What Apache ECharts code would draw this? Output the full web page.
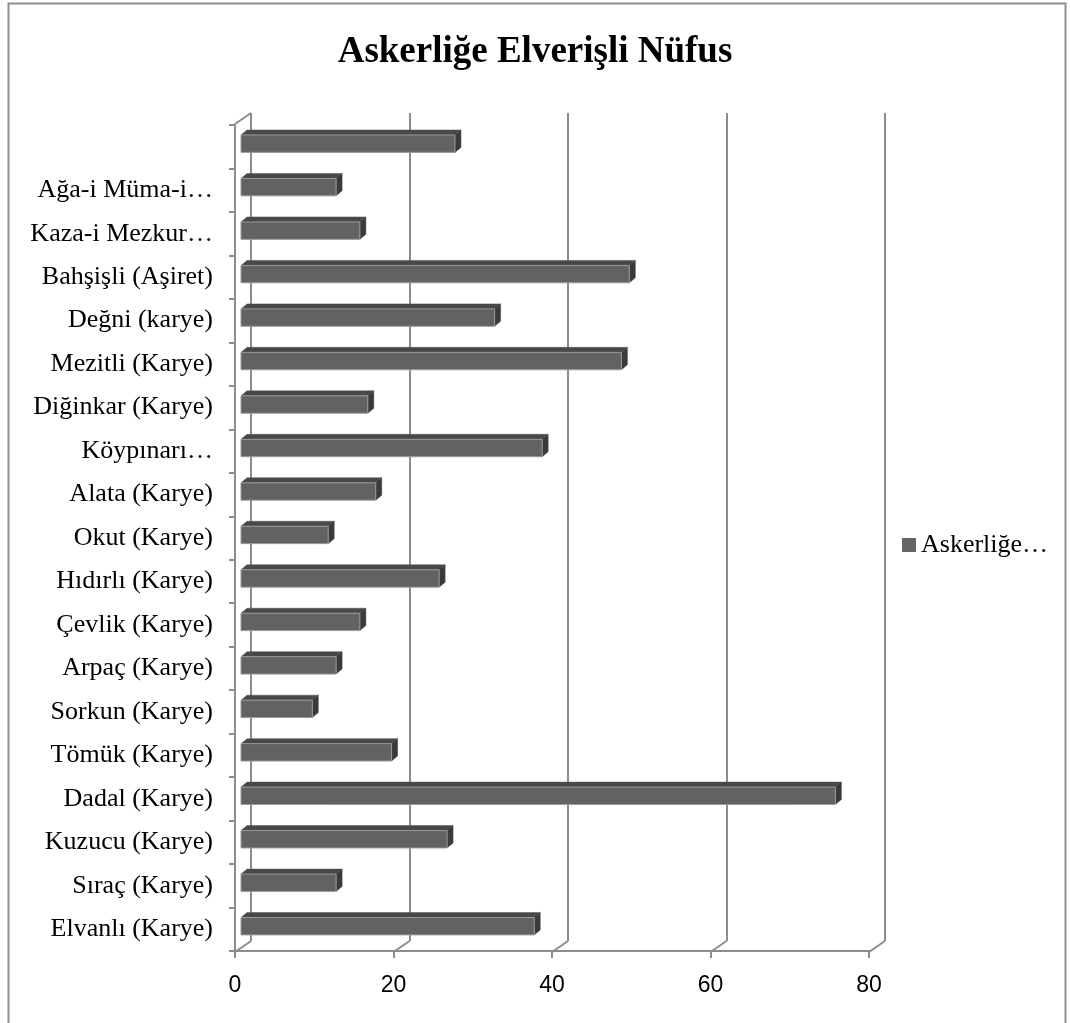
<!DOCTYPE html>
<html>
<head>
<meta charset="utf-8">
<script src="https://cdn.jsdelivr.net/npm/echarts@6/dist/echarts.min.js"></script>
<style>
html,body{margin:0;padding:0;background:#fff;}
#chart{width:1070px;height:1023px;}
</style>
</head>
<body>
<div id="chart"></div>
<script>
// Categories, bottom to top (as Excel plots them)
var categories = [
  "Elvanlı (Karye)", "Sıraç (Karye)", "Kuzucu (Karye)", "Dadal (Karye)",
  "Tömük (Karye)", "Sorkun (Karye)", "Arpaç (Karye)", "Çevlik (Karye)",
  "Hıdırlı (Karye)", "Okut (Karye)", "Alata (Karye)", "Köypınarı…",
  "Diğinkar (Karye)", "Mezitli (Karye)", "Değni (karye)", "Bahşişli (Aşiret)",
  "Kaza-i Mezkur…", "Ağa-i Müma-i…", ""
];
var values = [37, 12, 26, 75, 19, 9, 12, 15, 25, 11, 17, 38, 16, 48, 32, 49, 15, 12, 27];
var xTicks = [0, 20, 40, 60, 80];
var seriesName = "Askerliğe Elverişli Nüfus";
var legendLabel = "Askerliğe…";
var titleText = "Askerliğe Elverişli Nüfus";

var GRAY = '#8c8c8c';
var DEPTH = [-16, 11];   // back wall -> front edge offset
var BAR_DEPTH = [6, -5]; // bar top/side depth

var chart = echarts.init(document.getElementById('chart'), null, {renderer: 'canvas'});

var barData = values.map(function (v, i) { return [v, i]; });
var slantData = xTicks.map(function (t) { return [t, 0]; });
slantData.push([xTicks[0], 1]);

var option = {
  backgroundColor: '#fff',
  animation: false,
  title: {
    text: titleText,
    left: 'center',
    top: 29,
    textStyle: {fontFamily: 'Liberation Serif', fontWeight: 'bold', fontSize: 37, color: '#000'}
  },
  legend: {
    left: 902, top: 532, padding: 0,
    itemWidth: 14, itemHeight: 14,
    data: [{name: seriesName, icon: 'rect', itemStyle: {color: '#666666'}}],
    formatter: function () { return legendLabel; },
    textStyle: {fontFamily: 'Liberation Serif', fontSize: 26, color: '#000'}
  },
  graphic: [{
    type: 'rect', z: 0, silent: true,
    shape: {x: 8.5, y: 3.5, width: 1057, height: 1100},
    style: {fill: null, stroke: '#909090', lineWidth: 2}
  }],
  grid: [
    {left: 235, width: 634, top: 125, height: 826},   // front axes
    {left: 251, width: 634, top: 113, height: 828},   // back wall
    {left: 241, width: 634, top: 125, height: 826}    // bars
  ],
  xAxis: [
    {
      gridIndex: 0, type: 'value', min: 0, max: 80, interval: 20,
      axisLine: {show: true, lineStyle: {color: GRAY, width: 2}},
      axisTick: {show: true, length: 7, lineStyle: {color: GRAY, width: 2}},
      axisLabel: {margin: 23, fontFamily: 'Liberation Sans', fontSize: 23, color: '#000'},
      splitLine: {show: false}
    },
    {
      gridIndex: 1, type: 'value', min: 0, max: 80, interval: 20,
      axisLine: {show: false}, axisTick: {show: false}, axisLabel: {show: false},
      splitLine: {show: true, lineStyle: {color: GRAY, width: 2}}
    },
    {
      gridIndex: 2, type: 'value', min: 0, max: 80, interval: 20, show: false
    }
  ],
  yAxis: [
    {
      gridIndex: 0, type: 'category', data: categories,
      axisLine: {show: true, lineStyle: {color: GRAY, width: 2}},
      axisTick: {show: true, length: 6, lineStyle: {color: GRAY, width: 2}},
      axisLabel: {margin: 22, fontFamily: 'Liberation Serif', fontSize: 26, color: '#000'},
      splitLine: {show: false}
    },
    {gridIndex: 1, type: 'value', min: 0, max: 1, show: false},
    {gridIndex: 2, type: 'category', data: categories, show: false}
  ],
  series: [
    {
      type: 'custom', name: '__slants', xAxisIndex: 1, yAxisIndex: 1, silent: true, z: 1,
      data: slantData,
      renderItem: function (params, api) {
        var p = api.coord([api.value(0), api.value(1)]);
        return {
          type: 'line',
          shape: {x1: p[0], y1: p[1], x2: p[0] + DEPTH[0], y2: p[1] + DEPTH[1]},
          style: {stroke: GRAY, lineWidth: 2}
        };
      }
    },
    {
      type: 'custom', name: seriesName, xAxisIndex: 2, yAxisIndex: 2, z: 3,
      data: barData,
      encode: {x: 0, y: 1},
      itemStyle: {color: '#666666'},
      renderItem: function (params, api) {
        var ci = api.value(1);
        var p0 = api.coord([0, ci]);
        var p1 = api.coord([api.value(0), ci]);
        var band = api.size([0, 1])[1];
        var h = band * 0.4;
        var cy = p0[1] - band * 0.07;
        var x0 = p0[0], x1 = p1[0];
        var top = cy - h / 2, bot = cy + h / 2;
        var dx = BAR_DEPTH[0], dy = BAR_DEPTH[1];
        return {
          type: 'group',
          children: [
            {
              type: 'polygon',
              shape: {points: [[x0, top], [x1, top], [x1 + dx, top + dy], [x0 + dx, top + dy]]},
              style: {fill: '#484848', stroke: '#555', lineWidth: 0.5}
            },
            {
              type: 'polygon',
              shape: {points: [[x1, top], [x1 + dx, top + dy], [x1 + dx, bot + dy], [x1, bot]]},
              style: {fill: '#3a3a3a', stroke: '#444', lineWidth: 0.5}
            },
            {
              type: 'rect',
              shape: {x: x0, y: top, width: x1 - x0, height: h},
              style: {fill: '#626262', stroke: '#9a9a9a', lineWidth: 1}
            }
          ]
        };
      }
    }
  ]
};
chart.setOption(option);
</script>
</body>
</html>
